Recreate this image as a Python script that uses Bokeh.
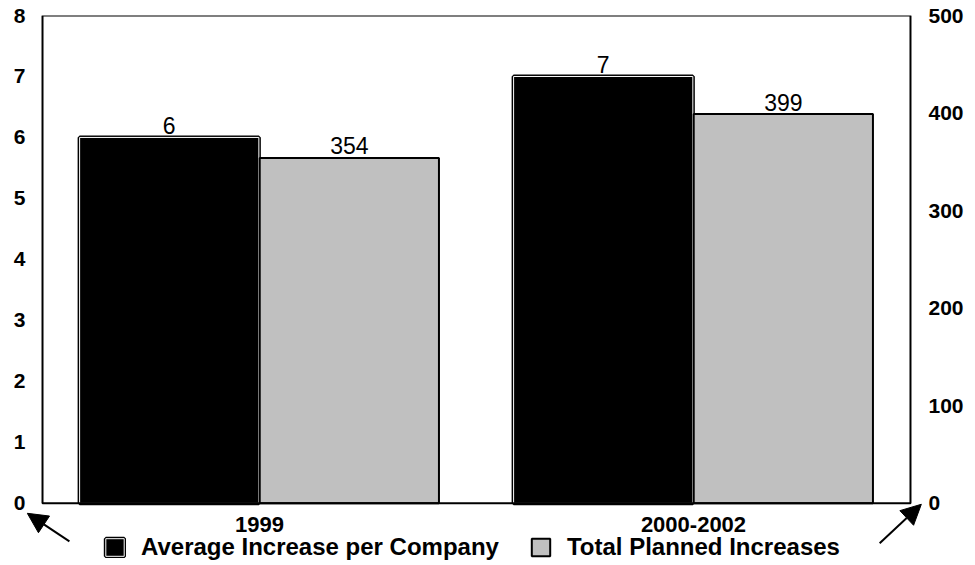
from bokeh.plotting import figure
from bokeh.models import (ColumnDataSource, FactorRange, Range1d, LinearAxis, FixedTicker,
                          Legend, LegendItem, Arrow, NormalHead, BoxAnnotation)
from bokeh.transform import dodge
from bokeh.core.properties import value
from bokeh.embed import file_html
from bokeh.resources import INLINE

# ---- data ----
periods = ["1999", "2000-2002"]
avg_increase = [6, 7]
total_planned = [354, 399]
left_ticks = [0, 1, 2, 3, 4, 5, 6, 7, 8]
right_ticks = [0, 100, 200, 300, 400, 500]
series_names = ["Average Increase per Company", "Total Planned Increases"]

FONT = "Liberation Sans"

LEFT_MAX = 8
RIGHT_MAX = 500
BELOW = 1.02           # room below zero (left-axis units) for category labels and legend
RATIO = RIGHT_MAX / LEFT_MAX
X_PAD = 0.0369         # extra horizontal room (category units, each side) for the corner arrows

source = ColumnDataSource(dict(
    period=periods,
    avg=avg_increase,
    total=total_planned,
    avg_label=[str(v) for v in avg_increase],
    total_label=[str(v) for v in total_planned],
))

p = figure(x_range=FactorRange(factors=periods, range_padding=X_PAD,
                               range_padding_units="absolute"),
           y_range=Range1d(-BELOW, LEFT_MAX),
           width=975, height=565, output_backend="svg", toolbar_location=None,
           min_border_left=26, min_border_right=49, min_border_top=15, min_border_bottom=0)
p.extra_y_ranges = {"right": Range1d(-BELOW * RATIO, RIGHT_MAX)}

p.xgrid.grid_line_color = None
p.ygrid.grid_line_color = None
p.outline_line_color = None
p.background_fill_color = "white"
p.border_fill_color = "white"

# plot box (0..8 on the value axes, spanning both categories)
p.add_layout(BoxAnnotation(left=0, right=len(periods), bottom=0, top=LEFT_MAX,
                           fill_alpha=0, line_color="black", line_alpha=1.0,
                           line_width=2, level="overlay"))

# left axis
ya = p.yaxis[0]
ya.ticker = FixedTicker(ticks=left_ticks)
ya.major_label_standoff = 1
# right axis
ra = LinearAxis(y_range_name="right", ticker=FixedTicker(ticks=right_ticks))
ra.major_label_standoff = 2
p.add_layout(ra, "right")

for ax in (ya, ra):
    ax.axis_line_color = None
    ax.major_tick_line_color = None
    ax.minor_tick_line_color = None
    ax.major_tick_out = 0
    ax.major_tick_in = 0
    ax.minor_tick_out = 0
    ax.major_label_text_font = FONT
    ax.major_label_text_font_style = "bold"
    ax.major_label_text_font_size = "21px"
    ax.major_label_text_color = "black"

xa = p.xaxis[0]
xa.fixed_location = 0
xa.axis_line_color = None
xa.major_tick_line_color = None
xa.minor_tick_line_color = None
xa.major_label_text_font = FONT
xa.major_label_text_font_style = "bold"
xa.major_label_text_font_size = "22px"
xa.major_label_text_color = "black"
xa.major_label_standoff = 8

BW = 0.413
xb = dodge("period", -0.208, range=p.x_range)
xg = dodge("period", 0.207, range=p.x_range)

black_outer = p.vbar(x=xb, top="avg", width=BW, source=source,
                     fill_color="black", line_color="black", line_width=4)
black_inner = p.vbar(x=xb, top="avg", width=BW, source=source,
                     fill_color=None, line_color="white", line_width=1)
gray = p.vbar(x=xg, top="total", width=BW, source=source, y_range_name="right",
              fill_color="#C0C0C0", line_color="black", line_width=2)

p.text(x=xb, y="avg", text="avg_label", source=source, text_align="center",
       text_baseline="alphabetic", y_offset=-12, text_font=value(FONT),
       text_font_size="23px", text_color="black")
p.text(x=xg, y="total", text="total_label", source=source, y_range_name="right",
       text_align="center", text_baseline="alphabetic", y_offset=-12,
       text_font=value(FONT), text_font_size="23px", text_color="black")

legend = Legend(items=[LegendItem(label=series_names[0], renderers=[black_outer, black_inner]),
                       LegendItem(label=series_names[1], renderers=[gray])],
                location=(77, 4), orientation="horizontal",
                glyph_width=23, glyph_height=22, label_standoff=15, spacing=30,
                padding=0, margin=0, border_line_color=None, background_fill_alpha=0,
                label_text_font=FONT, label_text_font_style="bold",
                label_text_font_size="24px", label_text_color="black")
p.add_layout(legend)

# decorative corner arrows (pointing at the zero labels)
for xs, ys, xe, ye in [(0.062, -0.623, -0.035, -0.164), (1.929, -0.656, 2.025, -0.016)]:
    p.add_layout(Arrow(end=NormalHead(size=20, fill_color="black", line_color="black"),
                       x_start=xs, y_start=ys, x_end=xe, y_end=ye,
                       line_width=2, line_color="black"))

open("out.html", "w").write(file_html(p, INLINE))
